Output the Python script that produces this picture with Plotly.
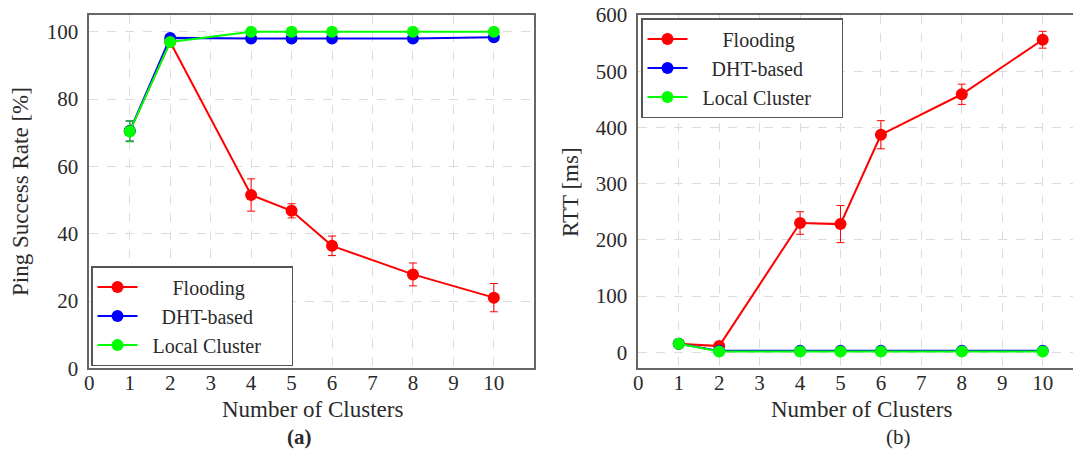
import plotly.graph_objects as go
from plotly.subplots import make_subplots

# Number of clusters tested
clusters = [1, 2, 4, 5, 6, 8, 10]

# (a) Ping success rate [%]
flood_psr = [70.5, 97.0, 51.5, 46.8, 36.4, 27.9, 21.0]
flood_psr_err = [3.0, 0.0, 4.8, 2.1, 2.9, 3.4, 4.2]
dht_psr = [70.5, 98.2, 98.0, 98.0, 98.0, 98.0, 98.4]
dht_psr_err = [3.0, 0.0, 0.0, 0.0, 0.0, 0.0, 0.0]
local_psr = [70.4, 97.0, 100.0, 100.0, 100.0, 100.0, 100.0]
local_psr_err = [3.1, 0.0, 0.0, 0.0, 0.0, 0.0, 0.0]

# (b) Round-trip time [ms]
flood_rtt = [15.0, 11.0, 230.0, 228.0, 387.0, 459.0, 556.0]
flood_rtt_err = [0.0, 0.0, 20.0, 33.0, 25.0, 18.0, 15.0]
dht_rtt = [15.0, 2.5, 2.5, 2.5, 2.5, 2.5, 2.5]
local_rtt = [15.0, 1.5, 1.5, 1.5, 1.5, 1.5, 1.5]

x_ticks = list(range(0, 11))
series_names = ["Flooding", "DHT-based", "Local Cluster"]
colors = ["#ff0000", "#0000ff", "#00ff00"]

FONT = "Liberation Serif"
TXT = "#2a2a2a"
NB = "\u00a0"
# padded so the legend labels sit centred in their column
legend_labels = [NB * 6 + series_names[0],
                 NB * 3 + "\u2009" + series_names[1],
                 NB * 2 + series_names[2] + NB * 5]

W, H = 1073, 451

fig = make_subplots(rows=1, cols=2)


def add_series(col, ys, errs, legend):
    for i, (y, e) in enumerate(zip(ys, errs)):
        fig.add_trace(
            go.Scatter(
                x=clusters, y=y, name=legend_labels[i], mode="lines+markers",
                line=dict(color=colors[i], width=2),
                marker=dict(color=colors[i], size=12, symbol="circle"),
                error_y=dict(type="data", array=e, visible=True,
                             color=colors[i], thickness=1, width=4),
                legend=legend,
            ),
            row=1, col=col,
        )


zeros = [0.0] * len(clusters)
add_series(1, [flood_psr, dht_psr, local_psr],
           [flood_psr_err, dht_psr_err, local_psr_err], "legend")
add_series(2, [flood_rtt, dht_rtt, local_rtt],
           [flood_rtt_err, zeros, zeros], "legend2")

grid = dict(showgrid=True, gridcolor="#dcdcdc", griddash="dash", gridwidth=1,
            zeroline=False, showline=True, linecolor="#666666", linewidth=1.6,
            ticks="", automargin=False,
            tickfont=dict(family=FONT, size=21, color=TXT))

top, bottom = 1 - 15 / H, 1 - 368.3 / H

fig.update_xaxes(grid)
fig.update_yaxes(grid)
fig.update_layout(
    xaxis=dict(domain=[89.3 / W, 534.3 / W], range=[0, 11], tickvals=x_ticks,
               mirror=True, ticklabelstandoff=-5),
    yaxis=dict(domain=[bottom, top], range=[0, 105], dtick=20, tick0=0,
               mirror=True, ticklabelstandoff=5),
    xaxis2=dict(domain=[638.3 / W, 1.0], range=[0, 10.75], tickvals=x_ticks,
                mirror=True, ticklabelstandoff=-5),
    yaxis2=dict(domain=[bottom, top], range=[-28.5, 600], dtick=100, tick0=0,
                mirror=False, ticklabelstandoff=5),
)

legend_style = dict(bgcolor="white", bordercolor="#555555", borderwidth=1.5,
                    font=dict(family=FONT, size=20, color=TXT),
                    xanchor="left", yanchor="top", itemwidth=40,
                    tracegroupgap=0)
fig.update_layout(
    legend=dict(x=91 / W, y=1 - 266 / H, **legend_style),
    legend2=dict(x=641 / W, y=1 - 18 / H, **legend_style),
)

title_font = dict(family=FONT, size=23, color=TXT)
annotations = [
    dict(text="Ping Success Rate [%]", x=20 / W, y=1 - 192 / H, textangle=-90),
    dict(text="RTT [ms]", x=570 / W, y=1 - 192 / H, textangle=-90),
    dict(text="Number of Clusters", x=312 / W, y=1 - 409 / H),
    dict(text="Number of Clusters", x=861 / W, y=1 - 409 / H),
    dict(text="<b>(a)</b>", x=299 / W, y=1 - 437 / H, font_size=21),
    dict(text="(b)", x=898 / W, y=1 - 437 / H, font_size=21),
]
for a in annotations:
    f = dict(title_font)
    if "font_size" in a:
        f["size"] = a.pop("font_size")
    fig.add_annotation(xref="paper", yref="paper", showarrow=False,
                       xanchor="center", yanchor="middle", font=f, **a)

fig.update_layout(
    width=W, height=H, margin=dict(l=0, r=0, t=0, b=0, autoexpand=False),
    paper_bgcolor="white", plot_bgcolor="white", showlegend=True,
)

fig.write_html("out.html")
